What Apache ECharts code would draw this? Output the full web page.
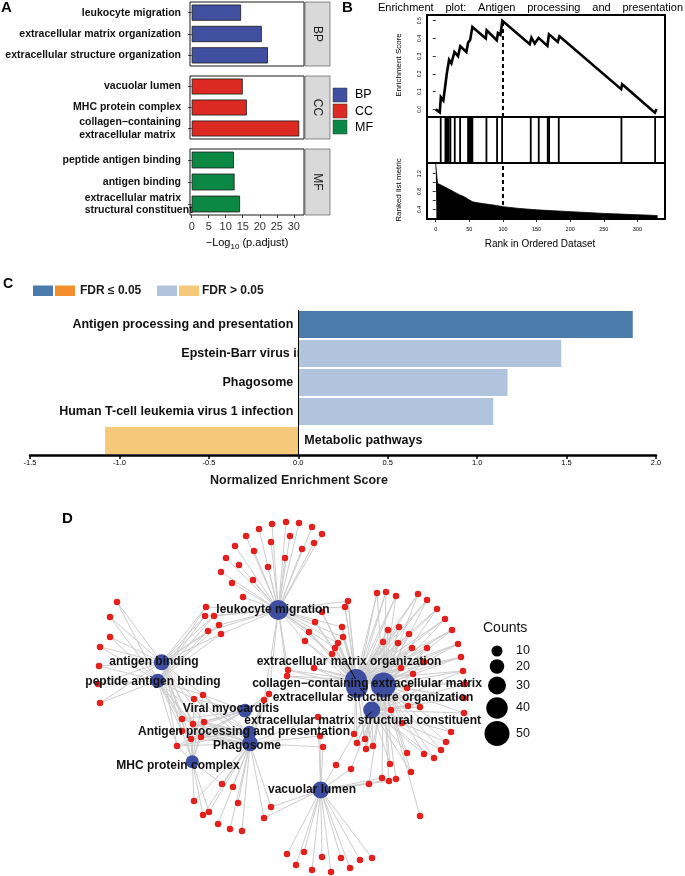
<!DOCTYPE html>
<html><head><meta charset="utf-8">
<script src="https://cdn.jsdelivr.net/npm/echarts@6/dist/echarts.min.js"></script>
<style>html,body{margin:0;padding:0;background:#fff}#c{width:685px;height:876px}</style>
</head><body><div id="c"></div>
<script>
const FONT = '"Liberation Sans", Arial, Helvetica, sans-serif';

// ---------------- Panel A data ----------------
const bpTerms = ['leukocyte migration', 'extracellular matrix organization', 'extracellular structure organization'];
const bpValues = [14.5, 20.6, 22.4];
const ccTerms = ['vacuolar lumen', 'MHC protein complex', 'collagen−containing\nextracellular matrix'];
const ccValues = [15.0, 16.2, 31.6];
const mfTerms = ['peptide antigen binding', 'antigen binding', 'extracellular matrix\nstructural constituent'];
const mfValues = [12.4, 12.6, 14.2];
const ontologies = ['BP', 'CC', 'MF'];
const aTicks = [0, 5, 10, 15, 20, 25, 30];

// ---------------- Panel B data ----------------
const esRank = [0, 6, 7.6, 11.3, 14.4, 16.4, 19.8, 23.3, 27.8, 33.2, 36.5, 45.6, 48.1, 51.1, 54.5, 74.4, 75.8, 90.8, 92.5, 96.2, 99.1, 139.8, 142.3, 147.3, 153.0, 166.1, 168.4, 181.5, 184.0, 275.8, 277.3, 325.9, 328.4];
const esValue = [0.0, -0.017, 0.069, 0.05, 0.14, 0.2, 0.28, 0.26, 0.324, 0.30, 0.356, 0.324, 0.376, 0.39, 0.464, 0.40, 0.446, 0.39, 0.43, 0.42, 0.50, 0.367, 0.404, 0.371, 0.403, 0.358, 0.423, 0.38, 0.412, 0.114, 0.142, -0.019, 0.002];
const hitRanks = [7.4, 14.4, 15.9, 17.4, 19.3, 21.8, 28.3, 36.2, 48.1, 49.6, 51.1, 53.1, 54.5, 75.4, 91.2, 98.7, 141.3, 153.2, 166.6, 168.6, 183, 276.2, 326.3];
const metricRank = [0, 1, 2, 3, 5, 10, 15, 20, 25, 30, 35, 40, 45, 48, 50, 55, 60, 70, 80, 90, 100, 110, 125, 150, 175, 200, 225, 250, 275, 300, 320, 330];
const metricValue = [1.42, 1.25, 1.08, 0.98, 0.95, 0.93, 0.89, 0.85, 0.81, 0.77, 0.73, 0.70, 0.66, 0.63, 0.60, 0.57, 0.555, 0.53, 0.51, 0.49, 0.46, 0.445, 0.42, 0.39, 0.37, 0.35, 0.33, 0.31, 0.295, 0.28, 0.27, 0.26];
const leadingEdgeRank = 100;
const peakES = 0.5;
const esTicks = [0, 0.1, 0.2, 0.3, 0.4, 0.5];
const metricTicks = [0.4, 0.6, 0.8, 1.0, 1.2];
const metricTickLabels = [0.4, 0.8, 1.2];
const rankTicks = [0, 50, 100, 150, 200, 250, 300];

// ---------------- Panel C data ----------------
const cPathways = ['Antigen processing and presentation', 'Epstein-Barr virus infection', 'Phagosome', 'Human T-cell leukemia virus 1 infection', 'Metabolic pathways'];
const cNES = [1.87, 1.47, 1.17, 1.09, -1.08];
const cSignificant = [true, false, false, false, false];

// ---------------- Panel D data (network layout coordinates) ----------------
const hubNames = ['leukocyte migration', 'extracellular matrix organization', 'extracellular structure organization', 'vacuolar lumen', 'MHC protein complex', 'collagen−containing extracellular matrix', 'peptide antigen binding', 'antigen binding', 'extracellular matrix structural constituent', 'Antigen processing and presentation', 'Phagosome', 'Viral myocarditis'];
const hubCounts = [36, 41, 41, 27, 16, 50, 19, 24, 27, 19, 24, 18];
const hubXY = [[278.3, 610], [356, 680], [357, 687], [320.7, 790], [192.3, 761.7], [383.3, 685], [157.7, 680.7], [161.7, 662.3], [371.7, 710], [249.3, 732.7], [250, 743.3], [245, 710.7]];
const hubLabelXY = [[273, 610], [349, 661.7], [373, 698], [312, 790], [178, 765.3], [367, 683.7], [153, 682], [154, 662], [362.7, 720.7], [244, 731.3], [247, 745.3], [231, 708.7]];
const leaderSegs = [[[347.3, 664], [355.5, 679]], [[360, 688], [366.7, 695.7]], [[366.7, 716.7], [371.7, 711.7]]];
const countLegend = [10, 20, 30, 40, 50];
// gene nodes: [x, y, [hub indices]]
const genes = [
 [259,529,[0]],[272,524,[0]],[286,522,[0]],[299,523,[0]],[312,527,[0]],[322,534,[0]],
 [246,536,[0]],[290,536,[0]],[314,543,[0]],[235,546,[0]],[271,542,[0]],[254,551,[0]],
 [302,549,[0]],[226,558,[0]],[239,565,[0]],[285,558,[0]],[268,567,[0]],[221,572,[0]],
 [253,580,[0]],[232,583,[0]],[243,597,[0]],
 [206,607,[0,7,6]],[205,616,[0,7,6]],[214,616,[0,7,6]],[219,625,[0,7,6]],[208,631,[0,7,6]],[221,634,[0,7,6]],
 [117,602,[7,6]],[110,617,[7,6]],[110,637,[7,6]],[100,647,[7,6]],[99,666,[7,6]],[98,684,[7,6]],[100,703,[7,6]],
 [194,699,[4,6,7,9,10,11]],[203,695,[4,6,7,9,10,11]],[182,719,[4,6,7,9,10,11]],[193,724,[4,6,7,9,10,11]],[204,722,[4,6,7,9,10,11]],[191,739,[4,6,7,9,10,11]],[201,737,[4,6,7,9,10,11]],[177,746,[4,6,7,9,10,11]],[182,731,[4,6,7,9,10,11]],
 [264,700,[0,9,10,11]],[269,694,[0,9,10,11]],
 [222,784,[10,4]],[233,787,[10]],[194,801,[4,10]],[238,803,[10]],[209,812,[4,10]],[203,815,[4,10]],[218,824,[10]],[230,829,[10]],[242,831,[10]],
 [271,807,[10,3]],[264,818,[10,3]],
 [287,854,[3]],[296,865,[3]],[304,852,[3]],[312,870,[3]],[322,857,[3]],[331,872,[3]],[341,858,[3]],[350,868,[3]],[360,860,[3]],[372,858,[3]],
 [318,717,[3,10]],[320,736,[3,10]],[323,747,[3,10]],
 [336,765,[3,5]],[351,769,[3,5]],[369,784,[3,5]],[382,778,[3,5]],[389,781,[3,5]],[396,779,[3,5]],
 [390,764,[5,8]],[411,772,[5,8]],
 [354,734,[8,5,1]],[365,739,[8,5,1]],[357,743,[8,5,1]],[373,746,[8,5,1]],[366,749,[8,5,1]],
 [420,816,[5]],
 [377,593,[1,2,5]],[386,592,[1,2,5]],[396,596,[1,2,5]],[418,594,[1,2,5]],[427,600,[1,2,5]],[437,609,[1,2,5]],[445,619,[1,2,5]],[452,630,[1,2,5]],[458,644,[1,2,5]],[461,657,[1,2,5]],
 [463,671,[5,8,1]],[465,684,[5,8,1]],[464,698,[5,8,1]],[464,713,[5,8]],[451,732,[5,8]],[446,742,[5,8]],[441,750,[5,8]],[434,758,[5,8]],[424,754,[5,8]],[407,753,[5,8]],
 [388,630,[1,2,5]],[399,627,[1,2,5]],[409,634,[1,2,5]],[383,642,[1,2,5]],[398,643,[1,2,5]],[412,648,[1,2,5]],[427,648,[1,2,5]],
 [401,668,[1,5,8]],[413,674,[1,5,8]],[407,688,[1,5,8]],[424,662,[1,5,8]],
 [408,706,[5,8]],[420,707,[5,8]],[391,710,[5,8]],[402,723,[5,8]],
 [348,601,[0,1,2]],[345,607,[0,1,2]],[342,627,[0,1,2]],[343,637,[0,1,2]],[338,643,[0,1,2]],[335,648,[0,1,2]],[332,654,[0,1,2]],
 [322,612,[0,1,2]],[315,622,[0,1,2]],[309,632,[0,1,2]],[305,641,[0,1,2]],
 [288,670,[0,1,2]],[287,676,[0,1,2]],[314,668,[1,2,5]]
];

// ---------------- helpers & styles ----------------
const mctx = document.createElement('canvas').getContext('2d');
function tw(t, size, weight) { mctx.font = (weight || 'normal') + ' ' + size + 'px ' + FONT; return mctx.measureText(t).width; }
const ontColors = {BP: '#414FA0', CC: '#DC2A22', MF: '#0B8944'};
const countSize = n => 7.5 + 0.35 * n;
const txt = (text, x, y, o) => ({type: 'text', x, y, silent: true, rotation: (o && o.rotation) || 0, z: (o && o.z) || 10,
  style: Object.assign({text, fontFamily: FONT, fontSize: 12, fill: '#000', align: 'left', verticalAlign: 'middle'}, o && o.style)});

const grid = [], xAxis = [], yAxis = [], series = [], graphics = [];

// ---------------- Panel A ----------------
const aPanels = [
  {terms: bpTerms, values: bpValues, ont: 'BP', top: 2, height: 64},
  {terms: ccTerms, values: ccValues, ont: 'CC', top: 76, height: 63},
  {terms: mfTerms, values: mfValues, ont: 'MF', top: 149, height: 66}
];
aPanels.forEach((p, i) => {
  grid.push({left: 190, top: p.top, width: 114, height: p.height, show: true, borderColor: '#1a1a1a', borderWidth: 1, backgroundColor: '#fff'});
  const last = i === aPanels.length - 1;
  xAxis.push({gridIndex: i, type: 'value', min: -0.5, max: 33, show: last, axisLine: {show: false}, splitLine: {show: false},
    axisTick: {show: true, customValues: aTicks, length: 3, lineStyle: {color: '#333'}},
    axisLabel: {customValues: aTicks, fontSize: 11, color: '#333', margin: 6}});
  const multi = p.terms.find(t => t.indexOf('\n') >= 0);
  const w = multi ? tw(multi.split('\n')[0], 10.5, 'bold') : 10;
  yAxis.push({gridIndex: i, type: 'category', data: p.terms, inverse: true, axisLine: {show: false}, splitLine: {show: false},
    axisTick: {show: true, length: 3.5, alignWithLabel: true, lineStyle: {color: '#333'}},
    axisLabel: {fontSize: 10.5, fontWeight: 'bold', color: '#111', margin: 9,
      formatter: v => v.indexOf('\n') < 0 ? v : v.split('\n').map(l => '{m|' + l + '}').join('\n'),
      rich: {m: {width: w, align: 'left', fontSize: 10.5, fontWeight: 'bold', color: '#111', lineHeight: 12.5}}}});
  series.push({type: 'bar', xAxisIndex: i, yAxisIndex: i, data: p.values, barWidth: '76%', silent: true,
    itemStyle: {color: ontColors[p.ont], borderColor: '#1a1a1a', borderWidth: 0.8}});
  graphics.push({type: 'rect', shape: {x: 305, y: p.top, width: 25, height: p.height}, silent: true,
    style: {fill: '#d9d9d9', stroke: '#444', lineWidth: 0.6}});
  graphics.push(txt(p.ont, 317.5, p.top + p.height / 2, {rotation: -Math.PI / 2, style: {align: 'center', fontSize: 12, fill: '#1a1a1a'}}));
});
ontologies.forEach((o, k) => {
  graphics.push({type: 'rect', shape: {x: 333, y: 88 + k * 16, width: 14, height: 14}, silent: true,
    style: {fill: ontColors[o], stroke: '#333', lineWidth: 0.5}});
  graphics.push(txt(o, 355, 95 + k * 16.2, {style: {fontSize: 12.5}}));
});
(function () {
  const a = '−Log', b = '10', c = ' (p.adjust)';
  const wa = tw(a, 11), wb = tw(b, 8), wc = tw(c, 11);
  let x0 = 247 - (wa + wb + wc) / 2;
  graphics.push(txt(a, x0, 242.5, {style: {fontSize: 11}}));
  graphics.push(txt(b, x0 + wa, 246.5, {style: {fontSize: 8}}));
  graphics.push(txt(c, x0 + wa + wb, 242.5, {style: {fontSize: 11}}));
})();
graphics.push(txt('A', 1, 8, {style: {fontSize: 15, fontWeight: 'bold'}}));

// ---------------- Panel B ----------------
const bx = {left: 427, width: 238};
grid.push(Object.assign({top: 15, height: 102, show: true, borderColor: '#000', borderWidth: 2}, bx));   // 3
grid.push(Object.assign({top: 117, height: 46, show: true, borderColor: '#000', borderWidth: 2}, bx));   // 4
grid.push(Object.assign({top: 163, height: 56, show: true, borderColor: '#000', borderWidth: 2}, bx));   // 5
const rankAxis = (gi, showIt) => ({gridIndex: gi, type: 'value', min: -13, max: 341, show: showIt, axisLine: {show: false}, splitLine: {show: false},
  axisTick: {show: true, customValues: rankTicks, length: 3, lineStyle: {color: '#000', width: 0.8}},
  axisLabel: {customValues: rankTicks, fontSize: 5.5, color: '#000', margin: 7}});
xAxis.push(rankAxis(3, false), rankAxis(4, false), rankAxis(5, true));
yAxis.push({gridIndex: 3, type: 'value', min: -0.043, max: 0.532, axisLine: {show: false}, splitLine: {show: false},
  axisTick: {show: true, customValues: esTicks, length: 3, lineStyle: {color: '#000', width: 0.8}},
  axisLabel: {customValues: esTicks, rotate: 90, fontSize: 5, color: '#000', margin: 5, formatter: v => v.toFixed(1)}});
yAxis.push({gridIndex: 4, type: 'value', min: 0, max: 1, show: false});
yAxis.push({gridIndex: 5, type: 'value', min: 0.185, max: 1.44, axisLine: {show: false}, splitLine: {show: false},
  axisTick: {show: true, customValues: metricTicks, length: 3, lineStyle: {color: '#000', width: 0.8}},
  axisLabel: {customValues: metricTickLabels, rotate: 90, fontSize: 5, color: '#000', margin: 5, formatter: v => v.toFixed(1)}});
series.push({type: 'line', xAxisIndex: 3, yAxisIndex: 3, data: esRank.map((r, i) => [r, esValue[i]]), symbol: 'none', silent: true,
  lineStyle: {color: '#000', width: 2.6, join: 'miter'}, z: 4});
series.push({type: 'line', xAxisIndex: 3, yAxisIndex: 3, data: [[leadingEdgeRank, -0.043], [leadingEdgeRank, peakES]], symbol: 'none', silent: true,
  lineStyle: {color: '#000', width: 2, type: [4, 3]}, z: 3});
series.push({type: 'bar', xAxisIndex: 4, yAxisIndex: 4, data: hitRanks.map(r => [r, 1]), barWidth: 1.8, silent: true, itemStyle: {color: '#000'}});
series.push({type: 'line', xAxisIndex: 5, yAxisIndex: 5, data: metricRank.map((r, i) => [r, metricValue[i]]), symbol: 'none', silent: true,
  lineStyle: {color: '#000', width: 0.8}, areaStyle: {color: '#000', opacity: 1, origin: 'start'}, z: 2});
series.push({type: 'line', xAxisIndex: 5, yAxisIndex: 5, data: [[leadingEdgeRank, 0.185], [leadingEdgeRank, 1.44]], symbol: 'none', silent: true,
  lineStyle: {color: '#000', width: 2, type: [4, 3]}, z: 3});
graphics.push(txt('B', 342, 8, {style: {fontSize: 15, fontWeight: 'bold'}}));
(function () {
  const words = ['Enrichment', 'plot:', 'Antigen', 'processing', 'and', 'presentation'];
  const fs = 11, x0 = 378, x1 = 683;
  const ws = words.map(w => tw(w, fs));
  const gap = (x1 - x0 - ws.reduce((a, b) => a + b, 0)) / (words.length - 1);
  let x = x0;
  words.forEach((w, i) => { graphics.push(txt(w, x, 7.5, {style: {fontSize: fs}})); x += ws[i] + gap; });
})();
graphics.push(txt('Enrichment Score', 398.5, 65, {rotation: Math.PI / 2, style: {align: 'center', fontSize: 8}}));
graphics.push(txt('Ranked list metric', 398.5, 190, {rotation: Math.PI / 2, style: {align: 'center', fontSize: 8}}));
graphics.push(txt('Rank in Ordered Dataset', 540, 244, {style: {align: 'center', fontSize: 10}}));

// ---------------- Panel C ----------------
grid.push({left: 30, top: 310, width: 626, height: 145}); // 6
xAxis.push({gridIndex: 6, type: 'value', min: -1.5, max: 2.0, interval: 0.5, splitLine: {show: false},
  axisLine: {show: true, onZero: false, lineStyle: {color: '#000', width: 2.5}},
  axisTick: {show: true, length: 4, lineStyle: {color: '#000', width: 1.5}},
  axisLabel: {fontSize: 7.5, color: '#000', margin: 4, formatter: v => v.toFixed(1)}});
yAxis.push({gridIndex: 6, type: 'category', data: cPathways, inverse: true, show: false});
const cColor = (nes, sig) => nes >= 0 ? (sig ? '#4A7BAB' : '#B0C4DE') : (sig ? '#F28E2B' : '#F6C97A');
const cLabelShift = [0, 52, 0, 0, 0];
series.push({type: 'bar', xAxisIndex: 6, yAxisIndex: 6, barCategoryGap: '7%', silent: true, z: 3,
  data: cNES.map((v, i) => ({value: v, itemStyle: {color: cColor(v, cSignificant[i])}})),
  markLine: {silent: true, symbol: 'none', label: {show: false}, lineStyle: {color: '#000', width: 1, type: 'solid'}, data: [{xAxis: 0}]}});
graphics.push(txt('C', 3, 284, {style: {fontSize: 14, fontWeight: 'bold'}}));
[['#4A7BAB', 33], ['#F28E2B', 55], ['#B0C4DE', 157], ['#F6C97A', 179]].forEach(s => {
  graphics.push({type: 'rect', shape: {x: s[1], y: 285.5, width: 20, height: 10.5}, silent: true, style: {fill: s[0]}});
});
graphics.push(txt('FDR ≤ 0.05', 80, 291, {style: {fontSize: 12, fontWeight: 'bold', fill: '#1a1a1a'}}));
graphics.push(txt('FDR > 0.05', 202, 291, {style: {fontSize: 12, fontWeight: 'bold', fill: '#1a1a1a'}}));
graphics.push(txt('Normalized Enrichment Score', 299, 481, {style: {align: 'center', fontSize: 12.5, fontWeight: 'bold', fill: '#1a1a1a'}}));

// ---------------- Panel D ----------------
grid.push({left: 60, top: 510, width: 500, height: 366}); // 7
xAxis.push({gridIndex: 7, type: 'value', min: 60, max: 560, show: false});
yAxis.push({gridIndex: 7, type: 'value', min: 510, max: 876, inverse: true, show: false});
const nodes = [], links = [];
genes.forEach((g, i) => nodes.push({name: 'g' + i, value: [g[0], g[1]], symbolSize: 6.5, itemStyle: {color: '#E2211C'}}));
const hubOffset = genes.length;
hubNames.forEach((h, j) => nodes.push({name: h, value: hubXY[j], symbolSize: countSize(hubCounts[j]), itemStyle: {color: '#3D4DA0'}}));
genes.forEach((g, i) => g[2].forEach(h => links.push({source: i, target: hubOffset + h})));
series.push({type: 'graph', coordinateSystem: 'cartesian2d', xAxisIndex: 7, yAxisIndex: 7, layout: 'none', silent: true, z: 2,
  data: nodes, links: links, label: {show: false}, emphasis: {disabled: true},
  lineStyle: {color: '#cdcdcd', width: 1, opacity: 1, curveness: 0}});
series.push({type: 'lines', coordinateSystem: 'cartesian2d', xAxisIndex: 7, yAxisIndex: 7, silent: true, z: 4,
  data: leaderSegs.map(s => ({coords: s})), lineStyle: {color: '#000', width: 1, opacity: 1}});
graphics.push(txt('D', 62, 519, {style: {fontSize: 15, fontWeight: 'bold'}}));
graphics.push(txt('Counts', 483, 628, {style: {fontSize: 14, fill: '#111'}}));
const legY = [651, 666.5, 685.5, 708, 733.5];
countLegend.forEach((n, k) => {
  graphics.push({type: 'circle', shape: {cx: 497, cy: legY[k], r: countSize(n) / 2}, silent: true, style: {fill: '#000'}});
  graphics.push(txt(String(n), 516, legY[k], {style: {fontSize: 12.5, fill: '#111'}}));
});

const chart = echarts.init(document.getElementById('c'), null, {renderer: 'canvas', width: 685, height: 876});
chart.setOption({
  animation: false,
  backgroundColor: '#fff',
  textStyle: {fontFamily: FONT},
  grid, xAxis, yAxis, series,
  graphic: {elements: graphics}
});

// Labels placed through the axes' scales (C pathway names, D term names)
const extra = [];
cNES.forEach((v, i) => {
  const p = chart.convertToPixel({gridIndex: 6}, [0, i]);
  const pos = v >= 0
    ? {x: p[0] - 5 + cLabelShift[i], align: 'right'}
    : {x: p[0] + 6, align: 'left'};
  extra.push(txt(cPathways[i], pos.x, p[1], {z: 1, style: {align: pos.align, fontSize: 12.5, fontWeight: 'bold', fill: '#111'}}));
});
hubNames.forEach((h, j) => {
  const p = chart.convertToPixel({gridIndex: 7}, hubLabelXY[j]);
  extra.push(txt(h, p[0], p[1], {z: 20, style: {align: 'center', fontSize: 12, fontWeight: 'bold', fill: '#111'}}));
});
chart.setOption({graphic: {elements: graphics.concat(extra)}});
</script>
</body></html>
